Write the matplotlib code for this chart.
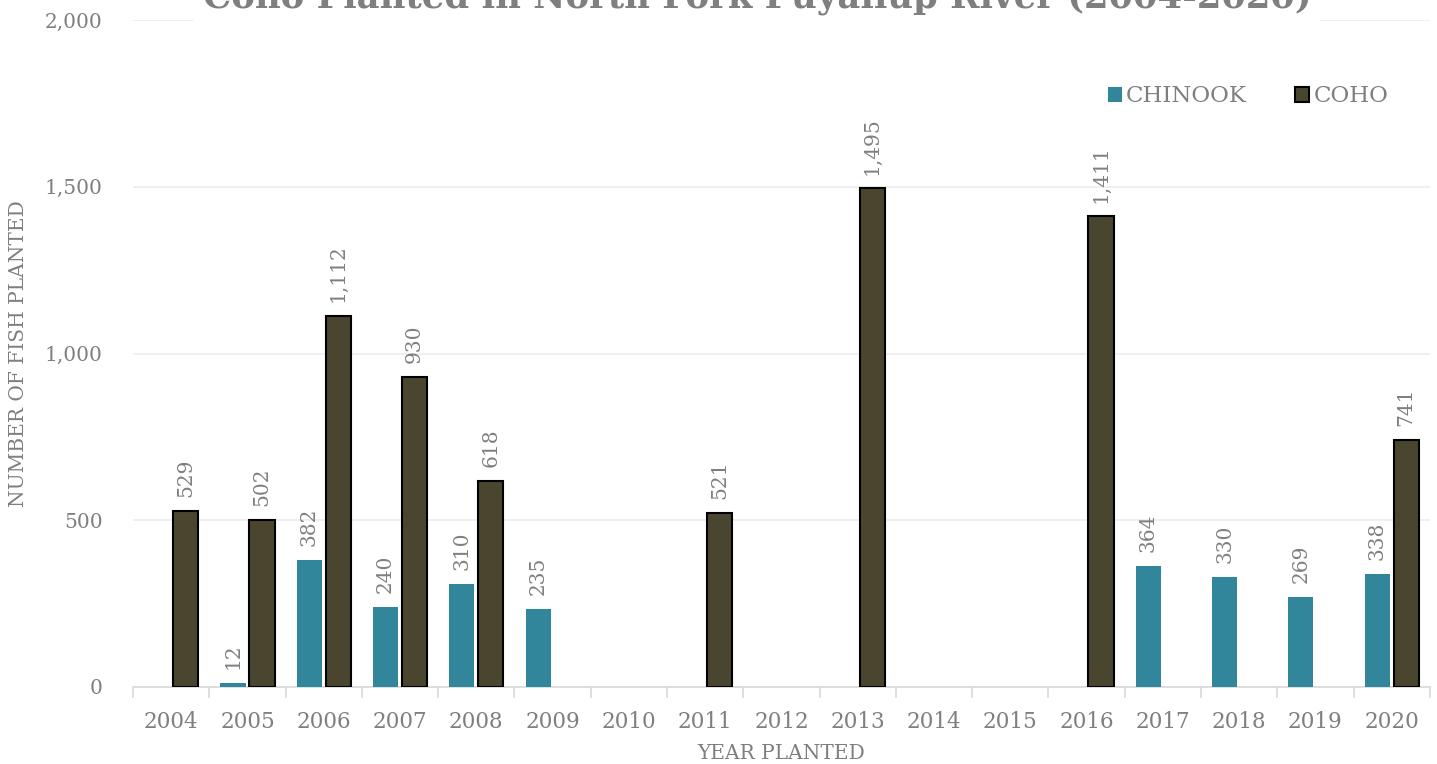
import numpy as np
import matplotlib
matplotlib.use("Agg")
import matplotlib.pyplot as plt
from matplotlib.ticker import FuncFormatter, MultipleLocator, FixedLocator

years = list(range(2004, 2021))
chinook = [np.nan, 12, 382, 240, 310, 235, np.nan, np.nan, np.nan, np.nan,
           np.nan, np.nan, np.nan, 364, 330, 269, 338]
coho = [529, 502, 1112, 930, 618, np.nan, np.nan, 521, np.nan, 1495,
        np.nan, np.nan, 1411, np.nan, np.nan, np.nan, 741]

grey = "#7f7f7f"
plt.rcParams["font.family"] = ["DejaVu Serif"]

fig = plt.figure(figsize=(14.37, 7.64), dpi=100)
ax = fig.add_axes([0.0926, 0.1008, 0.9024, 0.873])

x = np.arange(len(years))
w = 0.33
off = 0.19
ax.bar(x - off, chinook, w, color="#31869b", label="CHINOOK", zorder=3)
ax.bar(x + off, coho, w, color="#4a452e", edgecolor="black",
       linewidth=1.5, label="COHO", zorder=3)

for xs, vals in ((x - off, chinook), (x + off, coho)):
    for xi, v in zip(xs, vals):
        if np.isnan(v):
            continue
        ax.annotate(f"{int(v):,}", (xi, v), xytext=(0, 10),
                    textcoords="offset points", rotation=90,
                    ha="center", va="bottom", color=grey, fontsize=14.5)

ax.set_xlim(-0.5, len(years) - 0.5)
ax.set_ylim(0, 2000)
ax.yaxis.set_major_locator(MultipleLocator(500))
ax.yaxis.set_major_formatter(FuncFormatter(lambda v, p: f"{int(v):,}"))
ax.grid(axis="y", color="#ececec", linewidth=1.2, zorder=0)
ax.set_xticks(x)
ax.set_xticklabels([str(y) for y in years])
ax.xaxis.set_minor_locator(FixedLocator(np.arange(-0.5, len(years), 1.0)))
ax.tick_params(axis="x", which="major", length=0, pad=17, labelsize=15.5,
               labelcolor=grey)
ax.tick_params(axis="x", which="minor", length=8, width=1.2, color="#d9d9d9")
ax.tick_params(axis="y", length=0, pad=22, labelsize=14.5, labelcolor=grey)

for s in ("top", "right", "left"):
    ax.spines[s].set_visible(False)
ax.spines["bottom"].set_color("#d9d9d9")
ax.spines["bottom"].set_linewidth(1.2)

ax.set_xlabel("YEAR PLANTED", color=grey, fontsize=14.5, labelpad=8)
ax.set_ylabel("NUMBER OF FISH PLANTED", color=grey, fontsize=14.5, labelpad=12)

fig.text(0.527, 1.003, "Coho Planted in North Fork Puyallup River (2004-2020)",
         ha="center", va="center", fontsize=25.5, fontweight="bold", color=grey,
         bbox=dict(facecolor="white", edgecolor="none", pad=6))

ax.legend(loc="upper right", bbox_to_anchor=(0.984, 0.933), ncol=2, frameon=False,
          fontsize=16.5, labelcolor=grey, handlelength=0.6, handleheight=0.6,
          handletextpad=0.2, columnspacing=2.1)

fig.savefig("out.png", dpi=100)
